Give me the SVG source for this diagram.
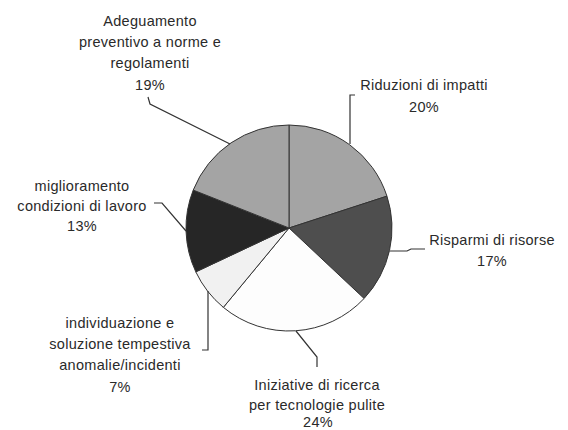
<svg xmlns="http://www.w3.org/2000/svg" width="568" height="430" viewBox="0 0 568 430">
<style>
.sl{stroke:#333;stroke-width:1;stroke-linejoin:round}
.ld{fill:none;stroke:#333;stroke-width:1.2}
text{font-family:"Liberation Sans",Arial,sans-serif;font-size:14.5px;fill:#2a2a2a;text-anchor:middle;letter-spacing:0.3px}
</style>
<rect width="568" height="430" fill="#ffffff"/>
<g id="slices">
<g id="riduzioni"><path class="sl" fill="#a4a4a4" d="M289,228 L289,125 A103,103 0 0 1 386.96,196.17 Z"/></g>
<g id="risparmi"><path class="sl" fill="#4e4e4e" d="M289,228 L386.96,196.17 A103,103 0 0 1 364.08,298.51 Z"/></g>
<g id="iniziative"><path class="sl" fill="#fdfdfd" d="M289,228 L364.08,298.51 A103,103 0 0 1 223.35,307.36 Z"/></g>
<g id="individuazione"><path class="sl" fill="#f1f1f1" d="M289,228 L223.35,307.36 A103,103 0 0 1 195.80,271.86 Z"/></g>
<g id="miglioramento"><path class="sl" fill="#262626" d="M289,228 L195.80,271.86 A103,103 0 0 1 193.23,190.08 Z"/></g>
<g id="adeguamento"><path class="sl" fill="#a4a4a4" d="M289,228 L193.23,190.08 A103,103 0 0 1 289,125 Z"/></g>
</g>
<g id="connectors">
<polyline class="ld" points="148,97 150,104 230,144"/>
<polyline class="ld" points="355,95 350,95 350,144"/>
<polyline class="ld" points="390,251 407,251 411,249 425,249"/>
<polyline class="ld" points="154,203 162,203 186,231"/>
<polyline class="ld" points="208,291 208,350 202,350"/>
<polyline class="ld" points="296,331 317,357 317,367"/>
</g>
<g id="labels">
<g id="lbl-adeguamento"><text x="150" y="26">Adeguamento</text><text x="150" y="47">preventivo a norme e</text><text x="150" y="68">regolamenti</text><text x="150" y="90">19%</text></g>
<g id="lbl-riduzioni"><text x="424" y="90">Riduzioni di impatti</text><text x="424" y="112">20%</text></g>
<g id="lbl-risparmi"><text x="492" y="245">Risparmi di risorse</text><text x="492" y="266">17%</text></g>
<g id="lbl-miglioramento"><text x="82" y="191">miglioramento</text><text x="82" y="211">condizioni di lavoro</text><text x="82" y="231">13%</text></g>
<g id="lbl-individuazione"><text x="120" y="328">individuazione e</text><text x="120" y="349">soluzione tempestiva</text><text x="120" y="370">anomalie/incidenti</text><text x="120" y="392">7%</text></g>
<g id="lbl-iniziative"><text x="317" y="390">Iniziative di ricerca</text><text x="317" y="410">per tecnologie pulite</text><text x="318" y="427">24%</text></g>
</g>
</svg>
